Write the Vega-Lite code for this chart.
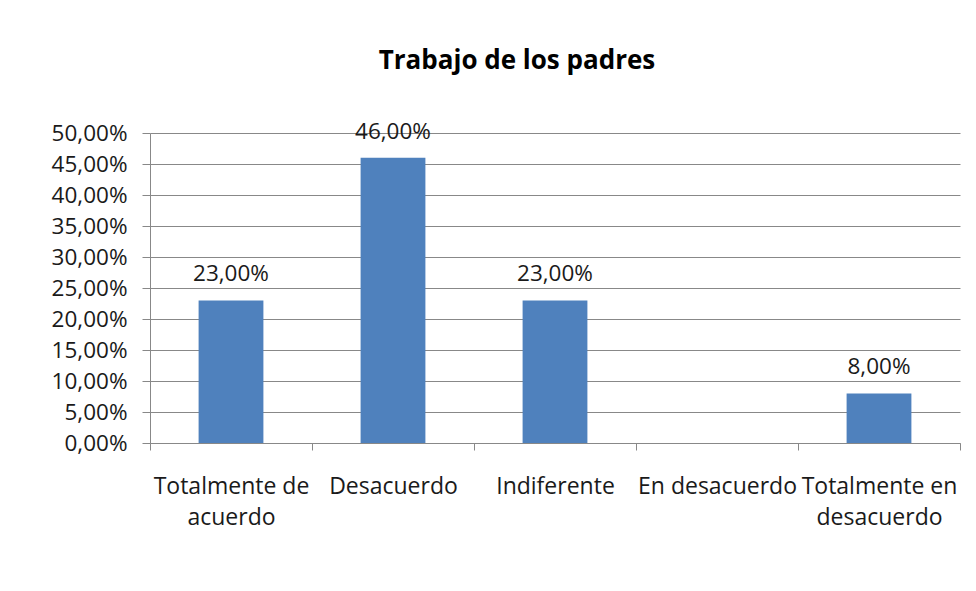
{
  "$schema": "https://vega.github.io/schema/vega-lite/v6.json",
  "width": 810,
  "height": 310,
  "autosize": {"type": "none"},
  "padding": {"left": 150, "top": 133, "right": 16, "bottom": 148},
  "background": "white",
  "config": {
    "locale": {"number": {"decimal": ",", "thousands": ".", "grouping": [3], "currency": ["", " €"]}},
    "font": "Open Sans",
    "view": {"stroke": null}
  },
  "title": {
    "text": "Trabajo de los padres",
    "font": "Open Sans",
    "fontSize": 26,
    "fontWeight": "bold",
    "color": "#000000",
    "anchor": "middle",
    "frame": "group",
    "dx": -38,
    "baseline": "alphabetic",
    "offset": 26
  },
  "data": {
    "values": [
      {"categoria": "Totalmente de acuerdo", "porcentaje": 0.23},
      {"categoria": "Desacuerdo", "porcentaje": 0.46},
      {"categoria": "Indiferente", "porcentaje": 0.23},
      {"categoria": "En desacuerdo", "porcentaje": 0.0},
      {"categoria": "Totalmente en desacuerdo", "porcentaje": 0.08}
    ]
  },
  "encoding": {
    "x": {
      "field": "categoria",
      "type": "nominal",
      "sort": null,
      "scale": {"paddingInner": 0, "paddingOuter": 0},
      "axis": {
        "title": null,
        "labelAngle": 0,
        "labelFont": "Open Sans",
        "labelFontSize": 23,
        "labelColor": "#1a1a1a",
        "labelLineHeight": 31,
        "labelPadding": 25,
        "labelOverlap": false,
        "labelBound": false,
        "labelFlush": false,
        "labelLimit": 400,
        "labelExpr": "datum.label == 'Totalmente de acuerdo' ? ['Totalmente de', 'acuerdo'] : datum.label == 'Totalmente en desacuerdo' ? ['Totalmente en', 'desacuerdo'] : datum.label",
        "tickBand": "extent",
        "tickSize": 7,
        "tickColor": "#888888",
        "domainColor": "#888888",
        "grid": false
      }
    },
    "y": {
      "field": "porcentaje",
      "type": "quantitative",
      "scale": {"domain": [0, 0.5], "nice": false},
      "axis": {
        "title": null,
        "values": [0, 0.05, 0.1, 0.15, 0.2, 0.25, 0.3, 0.35, 0.4, 0.45, 0.5],
        "format": ".2%",
        "labelFont": "Open Sans",
        "labelFontSize": 22.5,
        "labelColor": "#1a1a1a",
        "labelPadding": 15,
        "tickSize": 8,
        "tickColor": "#888888",
        "domainColor": "#888888",
        "grid": true,
        "gridColor": "#888888",
        "gridWidth": 1
      }
    }
  },
  "layer": [
    {
      "mark": {"type": "bar", "color": "#4F81BD", "width": {"band": 0.4}}
    },
    {
      "transform": [{"filter": "datum.porcentaje > 0"}],
      "mark": {"type": "text", "baseline": "alphabetic", "dy": -19, "font": "Open Sans", "fontSize": 22.5, "color": "#1a1a1a"},
      "encoding": {
        "text": {"field": "porcentaje", "type": "quantitative", "format": ".2%"}
      }
    }
  ]
}
